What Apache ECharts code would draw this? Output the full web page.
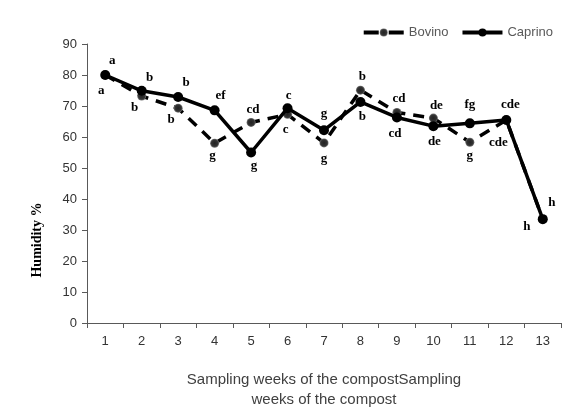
<!DOCTYPE html>
<html>
<head>
<meta charset="utf-8">
<script src="https://cdn.jsdelivr.net/npm/echarts@6/dist/echarts.min.js"></script>
<style>
  html, body { margin: 0; padding: 0; background: #fff; }
  #chart { width: 576px; height: 417px; }
</style>
</head>
<body>
<div id="chart"></div>
<script>
// semanas de muestreo
var weeks = ['1','2','3','4','5','6','7','8','9','10','11','12','13'];
// humedad % por tratamiento
var bovino  = [80, 73.2, 69.3, 58, 64.7, 67.3, 58.1, 75.1, 67.9, 66.1, 58.3, 65.5, 33.5];
var caprino = [80, 74.9, 72.9, 68.6, 55, 69.3, 62.2, 71.3, 66.3, 63.5, 64.4, 65.5, 33.5];
// letras de significancia
var bovinoLetters  = ['a','b','b','g','cd','c','g','b','cd','de','g','cde','h'];
var caprinoLetters = ['a','b','b','ef','g','c','g','b','cd','de','fg','cde','h'];

// desplazamiento de las letras (px) respecto al punto
var bovinoOffsets  = [[-4,16],[-7,12],[-7,11],[-2,12],[2,-13],[-2,15],[0,16],[2,-14],[2,-14],[3,-12],[0,13],[-8,23],[-16,7]];
var caprinoOffsets = [[7,-14],[8,-13],[8,-14],[6,-15],[3,13],[1,-13],[0,-17],[2,15],[-2,16],[1,15],[0,-19],[4,-15],[9,-17]];

var chart = echarts.init(document.getElementById('chart'));

var letterStyle = {
    show: true,
    position: 'inside',
    align: 'center',
    verticalAlign: 'middle',
    color: '#000',
    fontFamily: 'Liberation Serif',
    fontWeight: 'bold',
    fontSize: 13
};

function buildData(values, letters, offsets) {
    return values.map(function (v, i) {
        return {
            value: v,
            label: Object.assign({}, letterStyle, {
                formatter: letters[i],
                offset: offsets[i]
            })
        };
    });
}

var option = {
    animation: false,
    backgroundColor: '#fff',
    legend: {
        top: 21,
        right: 18,
        itemWidth: 40,
        itemHeight: 10,
        itemGap: 12,
        textStyle: { color: '#595959', fontFamily: 'Liberation Sans', fontSize: 13 },
        data: [
            { name: 'Bovino', lineStyle: { width: 4, type: [15, 10] } },
            { name: 'Caprino', lineStyle: { width: 4 } }
        ]
    },
    grid: { left: 87, right: 15, top: 44, bottom: 94 },
    xAxis: {
        type: 'category',
        data: weeks,
        boundaryGap: true,
        name: 'Sampling weeks of the compostSampling\nweeks of the compost',
        nameLocation: 'middle',
        nameGap: 47,
        nameTextStyle: { color: '#404040', fontFamily: 'Liberation Sans', fontSize: 15, lineHeight: 20 },
        axisLine: { lineStyle: { color: '#595959', width: 1 } },
        axisTick: { show: true, length: 5, lineStyle: { color: '#595959' } },
        axisLabel: { color: '#333', fontFamily: 'Liberation Sans', fontSize: 13, margin: 12 },
        splitLine: { show: false }
    },
    yAxis: {
        type: 'value',
        min: 0,
        max: 90,
        interval: 10,
        axisLine: { show: true, lineStyle: { color: '#595959', width: 1 } },
        axisTick: { show: true, length: 5, lineStyle: { color: '#595959' } },
        axisLabel: { color: '#333', fontFamily: 'Liberation Sans', fontSize: 13, margin: 10 },
        splitLine: { show: false }
    },
    graphic: [{
        type: 'text',
        x: 37,
        y: 240,
        rotation: Math.PI / 2,
        style: {
            text: 'Humidity %',
            fill: '#000',
            font: 'bold 14px "Liberation Serif"',
            align: 'center',
            verticalAlign: 'middle'
        }
    }],
    series: [
        {
            name: 'Bovino',
            type: 'line',
            data: buildData(bovino, bovinoLetters, bovinoOffsets),
            symbol: 'circle',
            symbolSize: 9,
            itemStyle: {
                color: {
                    type: 'radial', x: 0.5, y: 0.5, r: 0.5,
                    colorStops: [{ offset: 0, color: '#222' }, { offset: 0.7, color: '#333' }, { offset: 1, color: '#777' }]
                }
            },
            lineStyle: { color: '#000', width: 3.5, type: [11, 8] },
            z: 2
        },
        {
            name: 'Caprino',
            type: 'line',
            data: buildData(caprino, caprinoLetters, caprinoOffsets),
            symbol: 'circle',
            symbolSize: 10,
            itemStyle: { color: '#000' },
            lineStyle: { color: '#000', width: 3.5 },
            z: 3
        }
    ]
};

chart.setOption(option);
</script>
</body>
</html>
